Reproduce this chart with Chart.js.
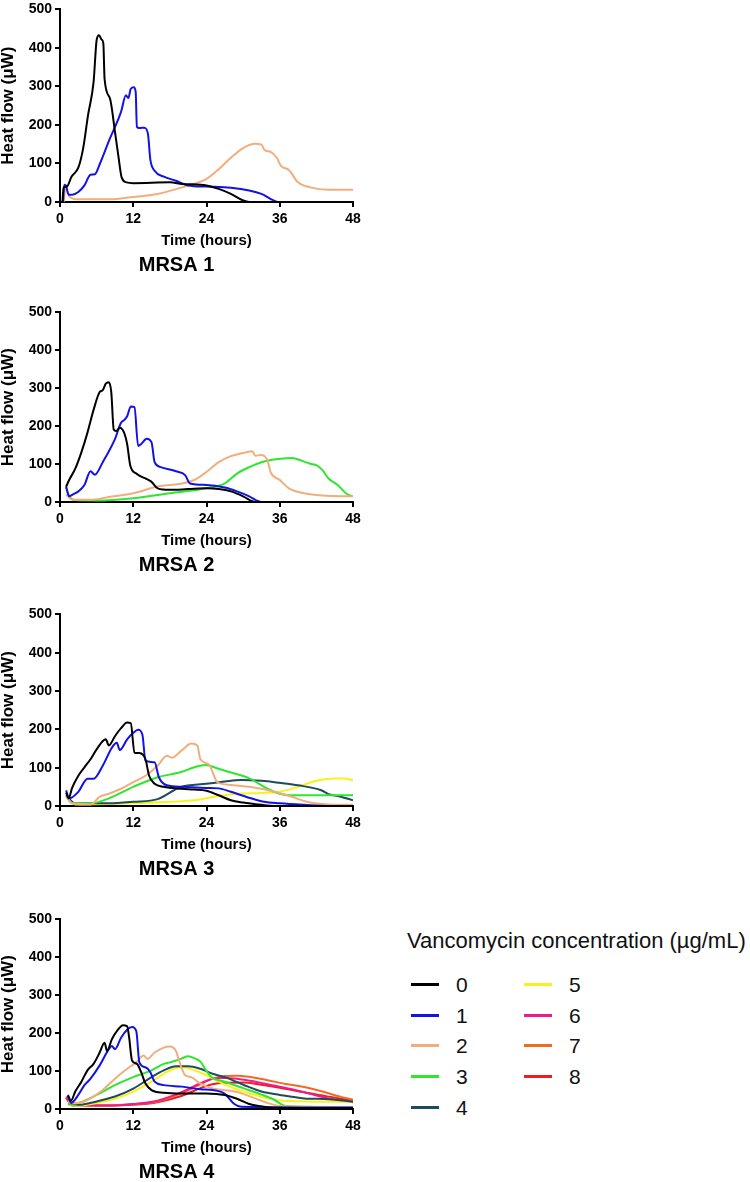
<!DOCTYPE html>
<html>
<head>
<meta charset="utf-8">
<script src="https://cdn.jsdelivr.net/npm/chart.js@4.4.0/dist/chart.umd.min.js"></script>
<style>
  body { margin: 0; background: #fff; width: 750px; height: 1182px; position: relative; overflow: hidden;
         font-family: "Liberation Sans", Arial, sans-serif; }
  canvas { position: absolute; left: 0; }
  .lg-title { position: absolute; left: 407px; top: 928px; font-size: 22px; white-space: nowrap; color: #111; }
  .lg-item { position: absolute; height: 24px; font-size: 21px; line-height: 24px; color: #111; }
  .lg-item span { position: absolute; top: 10px; left: 0; width: 28px; height: 3px; }
  .lg-item b { position: absolute; left: 45px; top: 0; font-weight: normal; }
</style>
</head>
<body>
<script>
// vancomycin concentrations (µg/mL) and their line colours
const concentrations = ['0', '1', '2', '3', '4', '5', '6', '7', '8'];
const lineColors = ['#000000', '#1212e6', '#f2ad7c', '#2fe62f', '#1d4c5c', '#f7f21c', '#ee1c8a', '#f26a22', '#ee1c24'];
const panelTitles = ['MRSA 1', 'MRSA 2', 'MRSA 3', 'MRSA 4'];

// [time (h), heat flow (µW)]
// MRSA 1
const m1c0 = [[0.4,0],[0.6,38],[1.1,40],[1.9,66],[3.0,89],[3.8,140],[4.6,226],[5.5,311],[6.0,420],[6.4,433],[6.8,422],[7.1,412],[7.3,320],[8.2,268],[9.0,183],[9.6,115],[10.1,64],[10.9,51],[12,49],[18,51],[20,47],[24,43],[26,34],[28,21],[30,4],[31,0],[48,0]];
const m1c1 = [[0.5,0],[0.7,45],[1.0,42],[1.4,19],[2,19],[3,26],[4,43],[5,71],[5.7,72],[6.5,98],[8,158],[10,234],[10.8,277],[11.2,270],[11.6,294],[12.1,298],[12.4,285],[12.6,195],[13.0,192],[13.8,193],[14.4,178],[14.8,110],[15.5,81],[17,66],[19,55],[21,43],[24,40],[28,37],[31,30],[33,21],[35,4],[35.7,0],[48,0]];
const m1c2 = [[0.6,0],[0.9,33],[1.2,28],[1.6,13],[3,7],[8,7],[12,13],[16,21],[20,38],[24,60],[26,85],[28,115],[30,140],[32,151],[33,149],[33.5,135],[34.5,130],[35.5,115],[36.2,94],[37.5,83],[39,51],[41,38],[44,32],[48,32]];

// MRSA 2
const m2c0 = [[1,40],[1.5,58],[2.5,88],[3.5,131],[4.5,183],[5.5,243],[6.5,290],[7,295],[7.5,312],[8,316],[8.4,290],[8.8,191],[9.2,187],[9.8,196],[10.5,183],[11,153],[11.5,97],[12.5,75],[14,62],[15,53],[16,36],[18,32],[21,34],[24,36],[26,34],[28,28],[30,15],[31.5,2],[32,0],[48,0]];
const m2c1 = [[1,40],[1.5,15],[2,19],[3,28],[4,45],[5,81],[5.7,72],[7,105],[9,166],[10,209],[10.5,216],[11,226],[11.6,252],[12.2,250],[12.8,148],[13.3,153],[14.2,167],[15,157],[15.5,105],[16.5,92],[19,81],[20.5,71],[21.3,49],[24,45],[27,38],[29,28],[31,15],[32.5,2],[33,0],[48,0]];
const m2c2 = [[1,20],[2,6],[5,6],[8,13],[12,23],[16,41],[20,49],[22,58],[24,79],[26,105],[28,121],[30,129],[31.5,134],[32,122],[33,124],[34,109],[34.5,79],[36,58],[37.5,36],[40,23],[43,17],[48,15]];
const m2c3 = [[1,40],[1.5,15],[2.5,5],[6,4],[12,10],[18,23],[24,36],[27,49],[29,75],[31,92],[33,105],[35,112],[38,116],[39,112],[41,101],[42,97],[43,84],[44,62],[45.5,45],[47,21],[48,15]];

// MRSA 3
const m3c0 = [[1,35],[1.4,20],[2,48],[3,79],[4,101],[5,122],[6,148],[7.5,174],[8,158],[9,182],[10,203],[11,218],[11.6,216],[12.2,139],[13,138],[14,122],[14.6,79],[15.5,58],[17,50],[20,45],[22,43],[24,40],[26,28],[28,15],[30,9],[33,3],[35,0],[48,0]];
const m3c1 = [[1,41],[1.5,20],[3,37],[4.5,71],[5.5,71],[7,105],[8.5,152],[9.3,165],[9.8,146],[11,174],[12,191],[12.8,199],[13.5,186],[14,118],[15.5,114],[16.2,75],[17.5,54],[20,50],[24,47],[26,46],[28,37],[30.7,23],[33.4,11],[36,7],[40,3],[44,0],[48,0]];
const m3c2 = [[1,24],[2,7],[5,4],[6.5,24],[8,32],[10,45],[12,62],[14,79],[16,105],[17.5,131],[18.3,126],[20,146],[21.5,163],[22.5,158],[23,122],[24.4,108],[25.8,62],[28,55],[31,50],[35,38],[38,24],[40.4,11],[44,4],[48,3]];
const m3c3 = [[1,28],[2,7],[5,7],[8,20],[12,50],[16,75],[19.7,88],[22,101],[23.8,107],[26,97],[27.9,88],[31.2,71],[34,45],[36,32],[37.7,28],[48,28]];
const m3c4 = [[1,28],[2.5,7],[8,7],[12,11],[16,18],[19.7,49],[24,58],[27,64],[29.6,68],[33,66],[36.2,60],[39,54],[42.8,41],[44,31],[46,24],[48,15]];
const m3c5 = [[1,24],[2.5,4],[12,7],[18,11],[22,15],[26,26],[29,32],[33,34],[36,37],[39,50],[42,66],[45,72],[46.5,72],[48,67]];

// MRSA 4
const m4c0 = [[1.3,35],[1.8,22],[2.5,46],[3.5,72],[4.5,102],[5.5,119],[6.5,149],[7.3,175],[7.7,153],[8.5,184],[9.5,209],[10.3,221],[11,218],[11.3,192],[11.8,128],[12.6,119],[13.3,97],[14,67],[15,50],[17,43],[20,41],[24,41],[27,37],[29,27],[31,13],[33,7],[35,3],[48,2]];
const m4c1 = [[1.3,37],[1.8,16],[3,37],[4,63],[5,80],[6.5,115],[8,158],[8.5,166],[9,158],[10,188],[11,209],[11.8,216],[12.5,205],[13,123],[14,110],[14.8,97],[15.5,72],[17,63],[20,59],[23,52],[25,50],[27,40],[28.5,14],[29.7,6],[48,4]];
const m4c2 = [[1.3,20],[2,16],[3,16],[5,28],[7,50],[9,80],[11,106],[12.5,123],[13.7,141],[14.3,132],[15.5,149],[17,162],[18,165],[19,153],[19.5,128],[20.5,89],[21.5,84],[23,67],[25,54],[28,48],[30,40],[32,28],[34,16],[36,8],[40,6],[48,5]];
const m4c3 = [[1.3,13],[3,16],[6,37],[9,63],[12,84],[15,102],[17,119],[18,123],[19,128],[20,134],[21,139],[22,134],[23,125],[24,100],[25,82],[27,72],[30,55],[33,38],[35,25],[37,8],[48,5]];
const m4c4 = [[1.3,13],[3,11],[6,20],[9,33],[12,54],[15,84],[17,102],[19,113],[21,113],[23,106],[25,93],[27,84],[30.3,62],[33,46],[36,37],[40,28],[44,26],[48,19]];
const m4c5 = [[1.3,11],[3,9],[6,16],[9,27],[12,46],[15,72],[17,93],[19,108],[20,110],[22,102],[24,89],[26,72],[28.4,55],[31,41],[33,32],[35.6,23],[40,20],[44,19],[48,19]];
const m4c6 = [[1,30],[2,11],[8,9],[12,13],[16,22],[20,45],[23,68],[25,80],[27,82],[29,80],[32,72],[35,62],[38,52],[41,40],[44,28],[48,18]];
const m4c7 = [[1,33],[2,11],[6,9],[12,13],[16,20],[20,42],[23,65],[25,80],[27,87],[29,88],[31,85],[34,76],[37,66],[40,58],[43,46],[46,32],[48,25]];
const m4c8 = [[1,30],[2,9],[8,9],[12,11],[16,18],[20,35],[23,55],[25,65],[27,69],[30,70],[33,64],[36,56],[39,47],[42,38],[45,30],[48,22]];

const panelSeries = [
  [m1c0, m1c1, m1c2],
  [m2c0, m2c1, m2c2, m2c3],
  [m3c0, m3c1, m3c2, m3c3, m3c4, m3c5],
  [m4c0, m4c1, m4c2, m4c3, m4c4, m4c5, m4c6, m4c7, m4c8]
];

const xTicks = [0, 12, 24, 36, 48];
const yTicks = [0, 100, 200, 300, 400, 500];

// page placement of each plot area
const plotTops = [6, 309, 611, 916];
const plotHeights = [196, 193, 195, 193];

Chart.defaults.font.family = '"Liberation Sans", Arial, sans-serif';
Chart.defaults.color = '#000';

function makePanel(idx) {
  const cv = document.createElement('canvas');
  cv.width = 370;
  cv.height = 8 + plotHeights[idx] + 48 + 27;
  cv.style.top = (plotTops[idx] - 8) + 'px';
  document.body.appendChild(cv);

  new Chart(cv.getContext('2d'), {
    type: 'line',
    data: {
      datasets: panelSeries[idx].map((pts, i) => ({
        label: concentrations[i],
        data: pts.map(p => ({ x: p[0], y: p[1] })),
        borderColor: lineColors[i],
        borderWidth: 2,
        pointRadius: 0,
        fill: false,
        cubicInterpolationMode: 'monotone'
      }))
    },
    options: {
      responsive: false,
      animation: false,
      layout: { padding: { top: 8, right: 17, bottom: 0, left: 0 } },
      plugins: {
        legend: { display: false },
        tooltip: { enabled: false },
        title: {
          display: true, position: 'bottom', text: panelTitles[idx], color: '#000',
          font: { size: 20, weight: 'bold', lineHeight: 1.2 },
          padding: { top: 3, bottom: 0 }
        }
      },
      scales: {
        x: {
          type: 'linear', min: 0, max: 48,
          afterBuildTicks: s => { s.ticks = xTicks.map(v => ({ value: v })); },
          ticks: { color: '#000', font: { size: 14, weight: 'bold' }, padding: 4, maxRotation: 0 },
          grid: { drawOnChartArea: false, color: '#000', lineWidth: 2, tickLength: 5 },
          border: { color: '#000', width: 2 },
          title: { display: true, text: 'Time (hours)', color: '#000',
                   font: { size: 15, weight: 'bold', lineHeight: 1.2 }, padding: { top: 0, bottom: 0 } },
          afterFit: s => { s.height = 48; }
        },
        y: {
          type: 'linear', min: 0, max: 500,
          afterBuildTicks: s => { s.ticks = yTicks.map(v => ({ value: v })); },
          ticks: { color: '#000', font: { size: 14, weight: 'bold' }, padding: 3 },
          grid: { drawOnChartArea: false, color: '#000', lineWidth: 2, tickLength: 5 },
          border: { color: '#000', width: 2 },
          title: { display: true, text: 'Heat flow (μW)', color: '#000',
                   font: { size: 17, weight: 'bold', lineHeight: 1 }, padding: { top: 0, bottom: 0 } },
          afterFit: s => { s.width = 60; }
        }
      }
    }
  });
}

panelSeries.forEach((_, i) => makePanel(i));

// legend, two columns
const lgTitle = document.createElement('div');
lgTitle.className = 'lg-title';
lgTitle.textContent = 'Vancomycin concentration (µg/mL)';
document.body.appendChild(lgTitle);
concentrations.forEach((c, i) => {
  const col = i < 5 ? 0 : 1;
  const row = i < 5 ? i : i - 5;
  const item = document.createElement('div');
  item.className = 'lg-item';
  item.style.left = (col ? 524 : 411) + 'px';
  item.style.top = (973 + row * 30.7) + 'px';
  item.innerHTML = '<span style="background:' + lineColors[i] + '"></span><b>' + c + '</b>';
  document.body.appendChild(item);
});
</script>
</body>
</html>
